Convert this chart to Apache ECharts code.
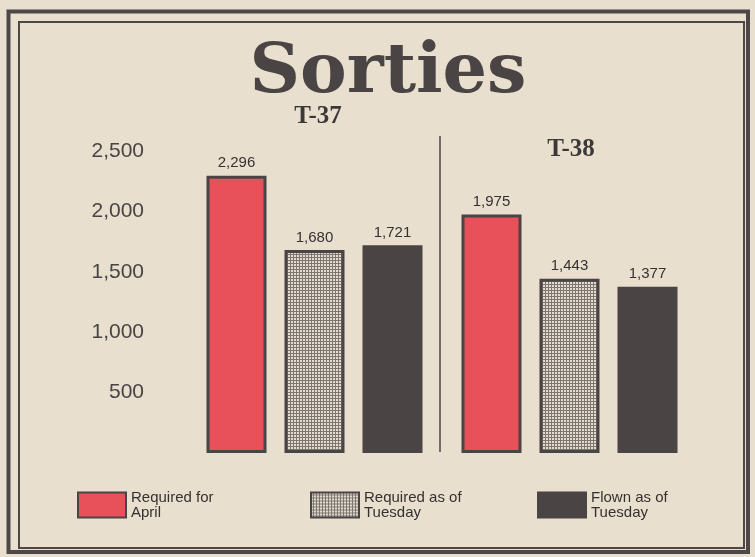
<!DOCTYPE html>
<html>
<head>
<meta charset="utf-8">
<title>Sorties</title>
<script src="https://cdn.jsdelivr.net/npm/echarts@6/dist/echarts.min.js"></script>
<style>
  html, body { margin: 0; padding: 0; background: #e9dfce; }
  #chart { width: 755px; height: 557px; }
</style>
</head>
<body>
<div id="chart"></div>
<script>
// data
const groups = ['T-37', 'T-38']
const seriesNames = ['Required for April', 'Required as of Tuesday', 'Flown as of Tuesday']
const requiredApril = [2296, 1975]
const requiredTuesday = [1680, 1443]
const flownTuesday = [1721, 1377]
const yTicks = [500, 1000, 1500, 2000, 2500]

const ink = '#4a4444'

// dotted screen used for the middle bars
function dotPattern() {
  const c = document.createElement('canvas')
  c.width = 3
  c.height = 3
  const ctx = c.getContext('2d')
  ctx.fillStyle = '#7d7671'
  ctx.fillRect(0, 0, 3, 3)
  ctx.fillStyle = '#e4dccf'
  ctx.fillRect(0, 0, 2, 2)
  return c
}

const chart = echarts.init(document.getElementById('chart'))

const legendFont = {
  color: '#363131',
  fontFamily: "'Liberation Sans Narrow', 'Liberation Sans', sans-serif",
  fontSize: 15,
  lineHeight: 15
}

function legendAt(left, name) {
  return {
    left: left,
    top: 490,
    padding: 0,
    data: [name],
    icon: 'rect',
    itemWidth: 48,
    itemHeight: 25,
    itemGap: 6,
    selectedMode: false,
    formatter: function (n) {
      return n.replace(/ (April|Tuesday)$/, '\n$1')
    },
    textStyle: legendFont
  }
}

const barLabel = {
  show: true,
  position: 'top',
  distance: 5,
  color: '#363131',
  fontFamily: "'Liberation Sans', sans-serif",
  fontSize: 15,
  formatter: function (p) { return p.value.toLocaleString('en-US') }
}

chart.setOption({
  backgroundColor: '#e9dfce',
  animation: false,
  graphic: [
    { type: 'rect', shape: { x: 8.5, y: 11.5, width: 739.5, height: 540.5 },
      style: { fill: null, stroke: '#4d4747', lineWidth: 4 } },
    { type: 'rect', shape: { x: 19, y: 22, width: 725, height: 526 },
      style: { fill: null, stroke: '#4d4747', lineWidth: 2 } },
    { type: 'line', shape: { x1: 440, y1: 136, x2: 440, y2: 452 },
      style: { stroke: ink, lineWidth: 1.5 } },
    { type: 'text', x: 388, y: 74,
      style: { text: 'Sorties', fill: ink, font: "bold 70px 'DejaVu Serif', serif",
        textAlign: 'center', textVerticalAlign: 'middle' } },
    { type: 'text', x: 318, y: 117,
      style: { text: groups[0], fill: '#3d3838', font: "bold 25px 'Liberation Serif', serif",
        textAlign: 'center', textVerticalAlign: 'middle' } },
    { type: 'text', x: 571, y: 150,
      style: { text: groups[1], fill: '#3d3838', font: "bold 25px 'Liberation Serif', serif",
        textAlign: 'center', textVerticalAlign: 'middle' } }
  ],
  legend: [
    legendAt(77, seriesNames[0]),
    legendAt(310, seriesNames[1]),
    legendAt(537, seriesNames[2])
  ],
  grid: {
    left: 187,
    right: 58,
    top: 139,
    bottom: 104
  },
  xAxis: {
    type: 'category',
    data: groups,
    axisLine: { show: false },
    axisTick: { show: false },
    axisLabel: { show: false }
  },
  yAxis: {
    type: 'value',
    min: 0,
    max: 2600,
    splitLine: { show: false },
    axisLine: { show: false },
    axisTick: { show: false },
    axisLabel: {
      customValues: yTicks,
      margin: 43,
      color: '#4a4545',
      fontFamily: "'Liberation Sans', sans-serif",
      fontSize: 21,
      formatter: function (v) { return v.toLocaleString('en-US') }
    }
  },
  series: [{
    name: seriesNames[0],
    type: 'bar',
    barWidth: 60,
    barGap: '30%',
    data: requiredApril,
    itemStyle: { color: '#e8505a', borderColor: ink, borderWidth: 3 },
    label: barLabel
  }, {
    name: seriesNames[1],
    type: 'bar',
    barWidth: 60,
    barGap: '30%',
    data: requiredTuesday,
    itemStyle: { color: { image: dotPattern(), repeat: 'repeat' }, borderColor: ink, borderWidth: 3 },
    label: barLabel
  }, {
    name: seriesNames[2],
    type: 'bar',
    barWidth: 60,
    barGap: '30%',
    data: flownTuesday,
    itemStyle: { color: ink, borderColor: ink, borderWidth: 3 },
    label: barLabel
  }]
})
</script>
</body>
</html>
